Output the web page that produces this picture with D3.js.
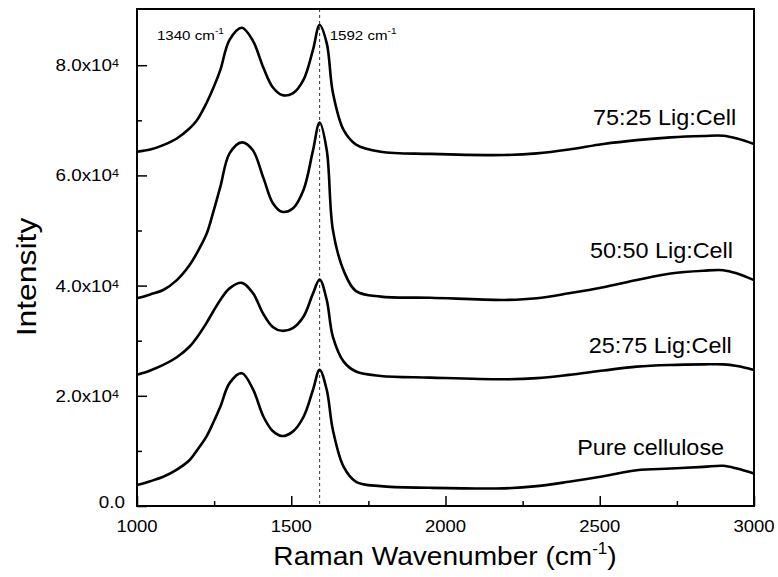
<!DOCTYPE html>
<html>
<head>
<meta charset="utf-8">
<script src="https://cdn.jsdelivr.net/npm/d3@7"></script>
<style>
  body { margin: 0; background: #fff; }
  svg { display: block; font-family: "Liberation Sans", Arial, sans-serif; }
</style>
</head>
<body>
<svg id="chart" width="778" height="577"></svg>
<script>
const wavenumber = [1000, 1043, 1085, 1129, 1170, 1193, 1225, 1247, 1270, 1300, 1340, 1375, 1410, 1440, 1470,
  1505, 1540, 1570, 1592, 1615, 1635, 1670, 1710, 1790, 1950, 2190, 2296, 2400, 2512, 2620, 2730, 2836, 2900,
  2945, 3000]

const lig75 = [64300, 64700, 65500, 66700, 68500, 69900, 73100, 75800, 79100, 84600, 86800, 84500, 79500, 76000,
  74600, 74900, 77400, 82700, 87300, 84000, 75000, 68200, 65600, 64300, 63900, 63700, 64000, 64700, 65700, 66400,
  66900, 67150, 67200, 66700, 65700]
const lig50 = [37700, 38400, 39200, 41000, 43700, 45800, 49300, 53300, 57900, 64000, 66000, 64600, 59500, 55000,
  53400, 54000, 57400, 64400, 69600, 64600, 50100, 42700, 39000, 38000, 37800, 37400, 37700, 38600, 39700, 41000,
  42200, 42700, 42800, 42200, 41000]
const lig25 = [23800, 24600, 25600, 27000, 28900, 30500, 33200, 35300, 37400, 39500, 40500, 38700, 34800, 32500,
  31800, 32300, 34400, 38500, 41100, 37400, 30700, 26200, 24400, 23600, 23300, 23000, 23200, 23800, 24600, 25300,
  25600, 25700, 25700, 25400, 24700]
const cellulose = [3800, 4500, 5300, 6600, 8300, 10000, 12600, 15100, 18000, 22300, 24100, 21300, 16200, 13600,
  12700, 13500, 16200, 21000, 24700, 21100, 13800, 7100, 4400, 3600, 3300, 3200, 3600, 4400, 5400, 6500, 6800,
  7100, 7300, 6800, 5900]

const seriesNames = ["75:25 Lig:Cell", "50:50 Lig:Cell", "25:75 Lig:Cell", "Pure cellulose"]
const seriesValues = [lig75, lig50, lig25, cellulose]
// where each name sits (right end, baseline) in data units
const labelX = [2942, 2932, 2928, 2903]
const labelY = [69150, 45010, 27770, 9256]

const xTicks = [1000, 1500, 2000, 2500, 3000]
const xMinor = [1250, 1750, 2250, 2750]
const yTicks = [0, 20000, 40000, 60000, 80000]
const yTickText = ["0.0", "2.0x10", "4.0x10", "6.0x10", "8.0x10"]
const yTickExp = ["", "4", "4", "4", "4"]
const yMinor = [10000, 30000, 50000, 70000]

const peakMarks = [1340, 1592]
const peakLine = 1592

var margin = {top: 9, right: 24, bottom: 71, left: 137}
var width = 778 - margin.left - margin.right
var height = 577 - margin.top - margin.bottom

var svg = d3.select("#chart")
var g = svg.append("g").attr("transform", "translate(" + margin.left + "," + margin.top + ")")

var x = d3.scaleLinear().domain([1000, 3000]).range([0, width])
var y = d3.scaleLinear().domain([0, 90200]).range([height, 0])

// text with a small horizontal stretch, like the original export
function stretchText(parent, px, py, sx, anchor, size) {
  return parent.append("g")
    .attr("transform", "translate(" + px + "," + py + ") scale(" + sx + ",1)")
    .append("text")
      .attr("text-anchor", anchor)
      .attr("font-size", size)
      .attr("fill", "#000")
}

// dashed line at the G band
g.append("line")
  .attr("x1", x(peakLine)).attr("x2", x(peakLine))
  .attr("y1", 0).attr("y2", height)
  .attr("stroke", "#333").attr("stroke-width", 1)
  .attr("stroke-dasharray", "3,3")

// spectra
var line = d3.line()
  .x(function(d, i) { return x(wavenumber[i]) })
  .y(function(d) { return y(d) })
  .curve(d3.curveCatmullRom.alpha(0.5))

g.selectAll(".spec")
  .data(seriesValues)
  .enter()
  .append("path")
    .attr("class", "spec")
    .attr("d", line)
    .attr("fill", "none")
    .attr("stroke", "#000")
    .attr("stroke-width", 2.6)
    .attr("stroke-linejoin", "round")

// axes, ticks pointing inward
g.append("g")
  .attr("transform", "translate(0," + height + ")")
  .call(d3.axisBottom(x).tickValues(xTicks).tickSize(-10).tickSizeOuter(0).tickFormat(""))
g.append("g")
  .attr("transform", "translate(0," + height + ")")
  .call(d3.axisBottom(x).tickValues(xMinor).tickSize(-5).tickSizeOuter(0).tickFormat(""))
g.append("g")
  .call(d3.axisLeft(y).tickValues(yTicks).tickSize(-10).tickSizeOuter(0).tickFormat(""))
g.append("g")
  .call(d3.axisLeft(y).tickValues(yMinor).tickSize(-5).tickSizeOuter(0).tickFormat(""))
g.selectAll(".domain").remove()
g.selectAll(".tick line").attr("stroke", "#000").attr("stroke-width", 1.5)

// frame
g.append("rect")
  .attr("x", 0).attr("y", 0)
  .attr("width", width).attr("height", height)
  .attr("fill", "none").attr("stroke", "#000").attr("stroke-width", 2)

// x tick labels
xTicks.forEach(function(t) {
  stretchText(g, x(t), height + 26, 1.09, "middle", 17).text(t)
})

// y tick labels with superscript exponent
yTicks.forEach(function(t, i) {
  var right = yTickExp[i] ? -18 : -12
  var drop = yTickExp[i] ? 6 : 2
  var txt = stretchText(g, right, y(t) + drop, 1.14, "end", 16.5)
  txt.append("tspan").text(yTickText[i])
  if (yTickExp[i]) {
    txt.append("tspan").attr("font-size", 11).attr("dy", -4).text(yTickExp[i])
  }
})

// series names
seriesNames.forEach(function(name, i) {
  stretchText(g, x(labelX[i]), y(labelY[i]), 1.04, "end", 22.5).text(name)
})

// peak notes
peakMarks.forEach(function(p, i) {
  var left = i == 0 ? x(p) - 85 : x(p) + 10
  var txt = stretchText(g, left, 31, 1.12, "start", 13.5)
  txt.append("tspan").text(p + " cm")
  txt.append("tspan").attr("font-size", 9).attr("dy", -6).text("-1")
})

// axis titles
var xt = stretchText(svg, 445, 565, 1.06, "middle", 26.5)
xt.append("tspan").text("Raman Wavenumber (cm")
xt.append("tspan").attr("font-size", 16).attr("dy", -11).text("-1")
xt.append("tspan").attr("dy", 11).text(")")

svg.append("g")
  .attr("transform", "translate(36,277) rotate(-90) scale(1.18,1)")
  .append("text")
    .attr("text-anchor", "middle")
    .attr("font-size", 27)
    .text("Intensity")
</script>
</body>
</html>
